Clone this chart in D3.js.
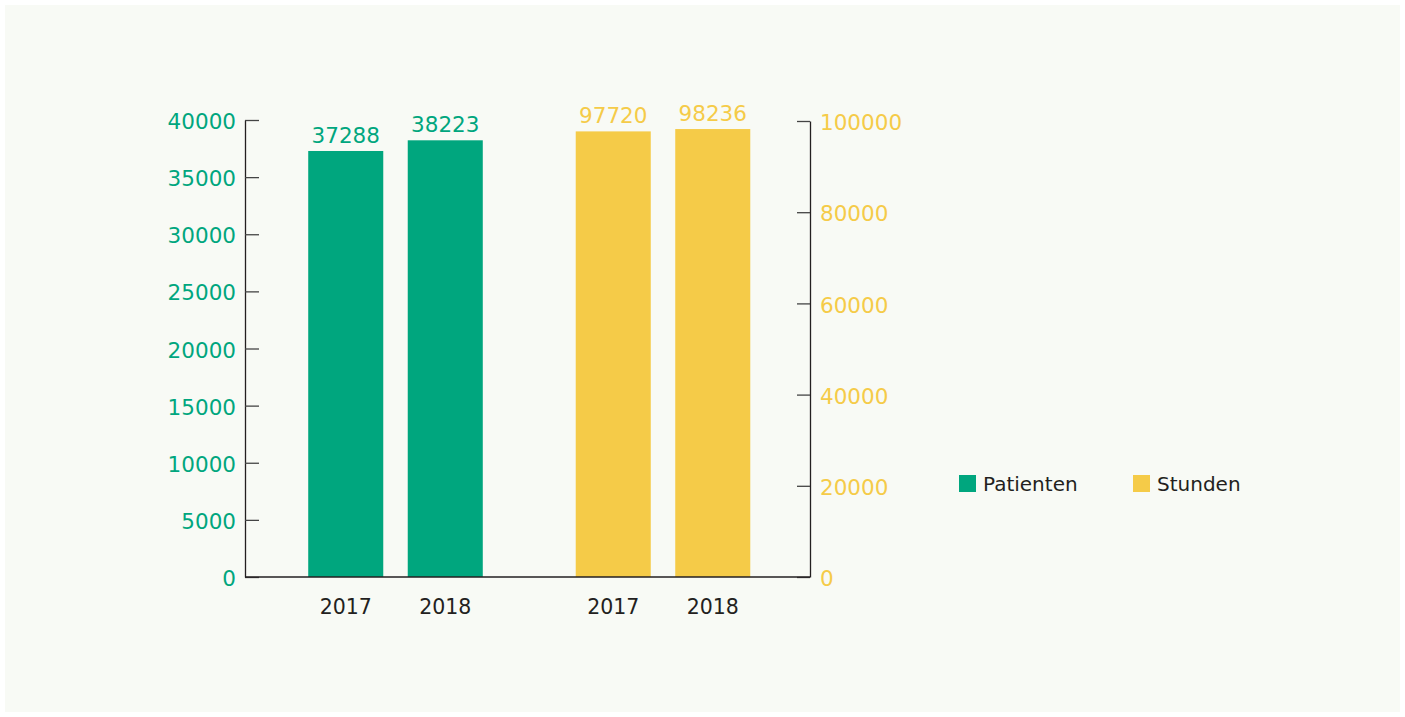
<!DOCTYPE html>
<html>
<head>
<meta charset="utf-8">
<script src="https://cdn.jsdelivr.net/npm/d3@7"></script>
<style>
  body { margin: 0; background: #fff; }
  text { font-family: "DejaVu Sans", sans-serif; }
</style>
</head>
<body>
<div id="chart"></div>
<script>
const years = ["2017", "2018"];
const series = ["Patienten", "Stunden"];
const patienten = [37288, 38223];
const stunden = [97720, 98236];
const leftTicks = [0, 5000, 10000, 15000, 20000, 25000, 30000, 35000, 40000];
const rightTicks = [0, 20000, 40000, 60000, 80000, 100000];

const width = 1405, height = 717;
const green = "#00a67e", yellow = "#f5cb48", ink = "#231f20";

const svg = d3.select("#chart")
  .append("svg")
  .attr("width", width)
  .attr("height", height);

svg.append("rect")
  .attr("x", 5).attr("y", 5)
  .attr("width", 1395).attr("height", 707)
  .attr("fill", "#f8faf5");

const axisLeftX = 245, axisRightX = 810, baseY = 577;

const yLeft = d3.scaleLinear().domain([0, 40000]).range([baseY, 120]);
const yRight = d3.scaleLinear().domain([0, 100000]).range([baseY, 121]);

// outer band = series groups, inner band = years
const xGroup = d3.scaleBand().domain(series).range([261.75, 796.75]);
const xYear = d3.scaleBand().domain(years).range([0, xGroup.bandwidth()])
  .paddingInner(0.246).paddingOuter(0.467);

const groups = [
  { name: "Patienten", values: patienten, y: yLeft, color: green },
  { name: "Stunden", values: stunden, y: yRight, color: yellow }
];

groups.forEach(g => {
  const rows = years.map((yr, i) => ({ year: yr, value: g.values[i] }));
  const gg = svg.append("g").attr("transform", `translate(${xGroup(g.name)},0)`);

  gg.selectAll("rect")
    .data(rows)
    .join("rect")
    .attr("x", d => xYear(d.year))
    .attr("y", d => g.y(d.value))
    .attr("width", xYear.bandwidth())
    .attr("height", d => baseY - g.y(d.value))
    .attr("fill", g.color);

  // value labels above bars
  gg.selectAll("text.val")
    .data(rows)
    .join("text")
    .attr("class", "val")
    .attr("x", d => xYear(d.year) + xYear.bandwidth() / 2)
    .attr("y", d => g.y(d.value) - 8)
    .attr("text-anchor", "middle")
    .attr("font-size", 21.5)
    .attr("fill", g.color)
    .text(d => d.value);

  // year labels under bars
  gg.selectAll("text.yr")
    .data(rows)
    .join("text")
    .attr("class", "yr")
    .attr("x", d => xYear(d.year) + xYear.bandwidth() / 2)
    .attr("y", 614)
    .attr("text-anchor", "middle")
    .attr("font-size", 20.5)
    .attr("fill", ink)
    .text(d => d.year);
});

// left axis, ticks pointing inward
const gl = svg.append("g")
  .attr("transform", `translate(${axisLeftX},0)`)
  .call(d3.axisLeft(yLeft).tickValues(leftTicks).tickFormat(d => d)
    .tickSizeInner(-14).tickSizeOuter(0).tickPadding(9));

// right axis
const gr = svg.append("g")
  .attr("transform", `translate(${axisRightX},0)`)
  .call(d3.axisRight(yRight).tickValues(rightTicks).tickFormat(d => d)
    .tickSizeInner(-13).tickSizeOuter(0).tickPadding(10));

[[gl, green], [gr, yellow]].forEach(([a, c]) => {
  a.select(".domain").attr("stroke", ink).attr("stroke-width", 1.3);
  a.selectAll(".tick line").attr("stroke", "#444").attr("stroke-width", 1.3);
  a.selectAll(".tick text")
    .attr("fill", c)
    .attr("font-size", 21.5)
    .attr("dy", "0.4em")
    .attr("font-family", "DejaVu Sans, sans-serif");
});

// baseline
svg.append("line")
  .attr("x1", axisLeftX).attr("x2", axisRightX)
  .attr("y1", baseY).attr("y2", baseY)
  .attr("stroke", ink).attr("stroke-width", 1.3);

// legend
const legend = svg.append("g")
  .selectAll("g")
  .data(groups)
  .join("g")
  .attr("transform", (d, i) => `translate(${959 + i * 174},475)`);

legend.append("rect")
  .attr("width", 17).attr("height", 17)
  .attr("fill", d => d.color);

legend.append("text")
  .attr("x", 24).attr("y", 16)
  .attr("font-size", 20)
  .attr("fill", ink)
  .text(d => d.name);
</script>
</body>
</html>
